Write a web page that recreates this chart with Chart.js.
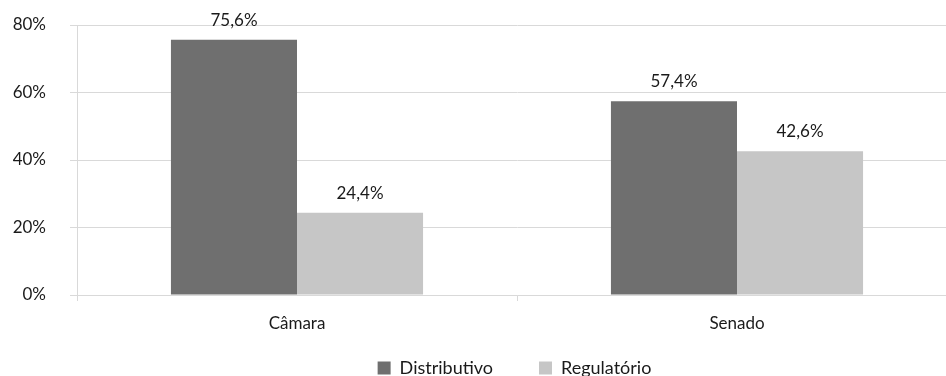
<!DOCTYPE html>
<html>
<head>
<meta charset="utf-8">
<script src="https://cdn.jsdelivr.net/npm/chart.js@4.4.0/dist/chart.umd.min.js"></script>
<style>
  html, body { margin: 0; padding: 0; background: #fff; overflow: hidden; }
  #wrap { width: 960px; height: 385px; position: relative; }
</style>
</head>
<body>
<div id="wrap"><canvas id="barChart"></canvas></div>
<script>
// chart data
const categories = ['Câmara', 'Senado'];
const distributivo = [75.6, 57.4];
const regulatorio = [24.4, 42.6];
const yTicks = [0, 20, 40, 60, 80];

const fontFamily = 'Lato, "Open Sans", sans-serif';
const textColor = '#1a1a1a';
const gridColor = '#d9d9d9';

function fmt(v) {
    return v.toFixed(1).replace('.', ',') + '%';
}

// value labels above bars
const barLabels = {
    id: 'barLabels',
    afterDatasetsDraw(chart) {
        const ctx = chart.ctx;
        ctx.save();
        ctx.font = '17px ' + fontFamily;
        ctx.fillStyle = textColor;
        ctx.textAlign = 'center';
        ctx.textBaseline = 'bottom';
        chart.data.datasets.forEach((ds, i) => {
            chart.getDatasetMeta(i).data.forEach((bar, j) => {
                ctx.fillText(fmt(ds.data[j]), bar.x, bar.y - 11);
            });
        });
        ctx.restore();
    }
};

// move the legend to where it sits in the original
const legendShift = {
    id: 'legendShift',
    afterLayout(chart) {
        const lg = chart.legend;
        lg.left += 36;
        lg.right += 36;
        lg.top = 313;
        lg.bottom = chart.height;
    }
};

const ctx = document.getElementById('barChart').getContext('2d');
const barChart = new Chart(ctx, {
    type: 'bar',
    data: {
        labels: categories,
        datasets: [
            {
                label: 'Distributivo',
                data: distributivo,
                backgroundColor: '#6f6f6f'
            },
            {
                label: 'Regulatório',
                data: regulatorio,
                backgroundColor: '#c6c6c6'
            }
        ]
    },
    options: {
        responsive: true,
        maintainAspectRatio: false,
        animation: false,
        datasets: {
            bar: {
                categoryPercentage: 0.573,
                barPercentage: 1
            }
        },
        layout: {
            padding: { top: 25, left: 0, right: 3, bottom: 0 }
        },
        plugins: {
            legend: {
                position: 'bottom',
                maxHeight: 38,
                labels: {
                    boxWidth: 13,
                    boxHeight: 13,
                    padding: 46,
                    color: textColor,
                    font: { family: fontFamily, size: 18 }
                }
            },
            tooltip: { enabled: false }
        },
        scales: {
            x: {
                offset: true,
                grid: {
                    offset: true,
                    drawOnChartArea: false,
                    color: gridColor,
                    tickLength: 6
                },
                border: { color: gridColor },
                ticks: {
                    color: textColor,
                    padding: 12,
                    font: { family: fontFamily, size: 17 }
                },
                afterFit(scale) { scale.height = 52; }
            },
            y: {
                min: 0,
                max: 80,
                afterBuildTicks(scale) {
                    scale.ticks = yTicks.map(v => ({ value: v }));
                },
                grid: {
                    color: gridColor,
                    tickLength: 7
                },
                border: { color: gridColor },
                ticks: {
                    color: textColor,
                    padding: 24,
                    font: { family: fontFamily, size: 17 },
                    callback: v => v + '%'
                },
                afterFit(scale) {
                    scale.width = 77;
                    scale.paddingTop = 0;
                    scale.paddingBottom = 0;
                }
            }
        }
    },
    plugins: [barLabels, legendShift]
});
</script>
</body>
</html>
